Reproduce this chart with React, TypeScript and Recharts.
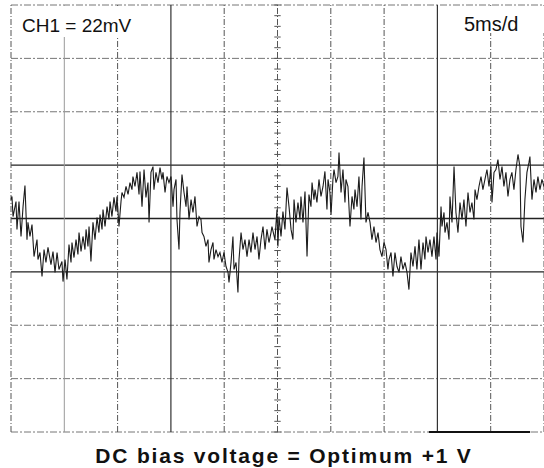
import { LineChart, Line, XAxis, YAxis, ReferenceLine } from 'recharts';

// CH1 trace: time in ms (5 ms/div), voltage in mV (22 mV/div)
const timeMs = [
  0.0, 0.09, 0.19, 0.47, 0.56, 0.75, 0.94, 1.13, 1.31, 1.5, 1.59, 1.78, 1.97, 2.16, 2.44, 2.53, 2.72, 2.91, 3.1, 3.28,
  3.47, 3.75, 3.94, 4.13, 4.32, 4.5, 4.78, 4.88, 5.07, 5.25, 5.44, 5.63, 5.72, 5.91, 6.1, 6.28, 6.38, 6.57, 6.75, 6.94,
  7.04, 7.22, 7.32, 7.5, 7.69, 7.88, 8.07, 8.25, 8.35, 8.54, 8.63, 8.82, 9.01, 9.19, 9.29, 9.47, 9.66, 9.85, 9.94, 10.13,
  10.32, 10.41, 10.6, 10.79, 10.98, 11.16, 11.35, 11.44, 11.63, 11.82, 12.01, 12.1, 12.29, 12.48, 12.66, 12.85, 12.95, 13.13, 13.32, 13.41,
  13.6, 13.79, 13.98, 14.16, 14.26, 14.45, 14.63, 14.82, 15.01, 15.2, 15.29, 15.48, 15.57, 15.76, 15.85, 16.04, 16.23, 16.42, 16.51, 16.7,
  16.89, 17.07, 17.26, 17.45, 17.64, 17.82, 17.92, 18.1, 18.29, 18.48, 18.57, 18.76, 18.95, 19.04, 19.23, 19.42, 19.6, 19.79, 19.98, 20.17,
  20.36, 20.45, 20.64, 20.82, 20.92, 21.11, 21.29, 21.39, 21.58, 21.76, 21.95, 22.14, 22.33, 22.51, 22.7, 22.89, 23.08, 23.26, 23.45, 23.64,
  23.83, 24.01, 24.2, 24.39, 24.48, 24.76, 24.95, 25.04, 25.14, 25.33, 25.51, 25.7, 25.89, 26.08, 26.27, 26.45, 26.55, 26.73, 26.92, 27.11,
  27.2, 27.39, 27.58, 27.77, 27.95, 28.14, 28.24, 28.42, 28.52, 28.7, 28.89, 29.08, 29.27, 29.45, 29.64, 29.74, 29.92, 30.02, 30.2, 30.3,
  30.49, 30.67, 30.77, 30.96, 31.14, 31.33, 31.42, 31.61, 31.8, 31.99, 32.17, 32.27, 32.46, 32.64, 32.83, 32.93, 33.11, 33.3, 33.49, 33.68,
  33.86, 34.05, 34.24, 34.43, 34.61, 34.8, 34.99, 35.18, 35.36, 35.46, 35.65, 35.83, 36.02, 36.21, 36.4, 36.58, 36.77, 36.96, 37.15, 37.33,
  37.52, 37.71, 37.9, 38.08, 38.27, 38.46, 38.65, 38.83, 38.93, 39.12, 39.3, 39.49, 39.68, 39.87, 39.96, 40.15, 40.34, 40.43, 40.62, 40.71,
  40.9, 41.09, 41.18, 41.37, 41.56, 41.74, 41.93, 42.12, 42.31, 42.49, 42.68, 42.87, 43.06, 43.24, 43.43, 43.53, 43.71, 43.9, 44.09, 44.27,
  44.46, 44.65, 44.84, 45.02, 45.12, 45.31, 45.49, 45.68, 45.87, 46.06, 46.24, 46.43, 46.62, 46.81, 46.99, 47.18, 47.37, 47.56, 47.74, 47.84,
  48.03, 48.21, 48.4, 48.59, 48.68, 48.87, 49.06, 49.25, 49.43, 49.62, 49.81, 50.0,
];

const ch1mV = [
  7.8, 9.1, 0.8, 7.0, -4.5, 7.0, -7.4, 4.9, 13.6, -8.7, -1.6, -7.4, -2.5, -15.7, -8.7, -16.9, -14.0, -23.9, -12.8, -18.1,
  -11.9, -19.0, -13.6, -22.2, -14.0, -21.0, -17.7, -26.0, -16.9, -25.1, -10.7, -18.1, -9.9, -16.1, -8.7, -14.8, -5.8, -13.6, -7.4, -12.8,
  -4.5, -11.5, -3.3, -17.7, -1.6, -8.7, 0.4, -5.8, 1.6, -4.5, 3.7, -3.3, 4.9, -0.4, 7.0, 0.8, 8.7, 2.9, 9.1, -3.3,
  7.0, 10.7, 8.7, 13.2, 9.9, 14.8, 11.9, 17.3, 13.2, 19.0, 9.9, 19.4, 4.9, 20.2, 8.7, 14.8, -1.6, 19.0, 21.4, 11.9,
  19.0, 14.8, 21.0, 16.1, 19.0, 10.7, 17.3, 14.8, 17.3, 4.9, 11.9, 16.1, -0.4, -12.8, 2.5, 18.1, 10.7, 4.9, 13.2, -0.4,
  7.8, 2.5, 9.1, -3.3, 0.8, -0.4, -5.8, -7.4, -11.5, -8.7, -18.1, -12.8, -9.9, -16.9, -12.8, -15.7, -14.0, -18.1, -14.0, -19.8,
  -22.2, -26.4, -18.1, -7.4, -21.0, -18.1, -30.5, -16.9, -5.8, -12.8, -8.7, -15.7, -8.7, -14.0, -5.8, -12.8, -7.4, -16.9, -8.7, -3.3,
  -12.8, -4.5, -9.9, -5.8, -3.3, -8.7, 3.7, -11.5, 0.8, -7.4, 2.9, -4.5, 12.8, 4.9, -4.5, -8.7, 7.8, -1.6, 6.6, -0.4,
  9.1, -1.6, 11.1, -15.7, 9.9, 4.9, 14.8, 7.8, 11.9, 6.6, 16.1, 9.1, 13.2, 19.4, 3.7, 16.1, 10.7, 1.6, 16.1, 20.2,
  14.8, 17.3, 27.2, 10.7, 20.2, 6.6, 16.1, 13.2, -3.3, 9.1, 3.7, 11.9, 4.9, 17.3, -0.4, 13.2, 25.1, -1.6, 2.5, -1.6,
  -8.7, -3.3, -9.9, -5.8, -12.8, -15.7, -9.9, -12.8, -21.0, -16.9, -14.0, -23.9, -14.0, -19.8, -22.2, -15.7, -21.0, -18.1, -22.2, -29.3,
  -14.0, -19.8, -11.5, -21.0, -8.7, -21.0, -9.9, -16.9, -7.4, -14.0, -8.7, -15.7, -7.4, -16.9, -5.8, -15.7, 4.9, -3.3, 2.5, -5.8,
  -1.6, -8.7, 9.1, -1.6, 21.4, 2.5, -5.8, 6.6, -0.4, 7.8, -3.3, 10.7, 2.5, 6.6, -0.4, 11.9, 7.8, 13.2, 17.3, 11.9,
  16.1, 20.2, 13.2, 21.4, 6.6, 19.0, 20.2, 24.3, 16.1, 21.4, 13.2, 19.0, 9.1, 16.1, 19.0, 11.9, 20.2, 26.4, 21.4, -3.3,
  -9.9, 7.8, 19.0, 23.1, 25.5, 7.8, 16.1, 10.7, 17.3, 11.9, 16.1, 13.2,
];

// graticule: 10 x 8 divisions
const xGridMs = [0, 5, 10, 15, 20, 25, 30, 35, 40, 45, 50];
const yGridMv = [-88, -66, -44, -22, 0, 22, 44, 66, 88];
const solidRows = [-22, 0, 22];
const solidCols = [15, 40];

const data = timeMs.map((t, i) => ({ t, v: ch1mV[i] }));
const minorTicks = Array.from({ length: 41 }, (_, i) => -88 + i * 4.4);

export default function App() {
  return (
    <div style={{ position: 'absolute', left: 0, top: 0, width: 544, height: 468, background: '#fff' }}>
      <LineChart width={544} height={468} data={data} margin={{ top: 5, right: 0, bottom: 36, left: 11 }}>
        <XAxis dataKey="t" type="number" domain={[0, 50]} hide />
        <YAxis type="number" domain={[-88, 88]} hide />
        {yGridMv.map((y) => (
          <ReferenceLine
            key={'h' + y}
            y={y}
            stroke={solidRows.includes(y) ? '#222' : '#666'}
            strokeWidth={solidRows.includes(y) ? 1.3 : 0.9}
            strokeDasharray={solidRows.includes(y) ? undefined : '7 2 2 2'}
          />
        ))}
        {xGridMs.map((x) => (
          <ReferenceLine
            key={'v' + x}
            x={x}
            stroke={solidCols.includes(x) ? '#333' : x === 5 ? '#999' : '#555'}
            strokeWidth={solidCols.includes(x) ? 1.2 : 1}
            strokeDasharray={solidCols.includes(x) || x === 5 ? undefined : '6 2 1 2'}
          />
        ))}
        {minorTicks.map((y) => (
          <ReferenceLine
            key={'m' + y}
            segment={[{ x: 24.7, y }, { x: 25.3, y }]}
            stroke="#555"
            strokeWidth={1}
          />
        ))}
        <ReferenceLine segment={[{ x: 39.2, y: -88 }, { x: 48.7, y: -88 }]} stroke="#111" strokeWidth={2} />
        <Line
          dataKey="v"
          type="linear"
          stroke="#1c1c1c"
          strokeWidth={1.1}
          dot={false}
          isAnimationActive={false}
        />
      </LineChart>
      <svg width={544} height={468} style={{ position: 'absolute', left: 0, top: 0, pointerEvents: 'none' }}>
        <rect x={12} y={6} width={148} height={31} fill="#fff" />
        <rect x={443} y={6} width={101} height={27} fill="#fff" />
        <text x={22} y={32} fontFamily="Liberation Sans, Arial, sans-serif" fontSize={19} fill="#111">
          CH1 = 22mV
        </text>
        <text x={464} y={31} fontFamily="Liberation Sans, Arial, sans-serif" fontSize={20} fill="#111">
          5ms/d
        </text>
        <text
          x={284}
          y={463}
          textAnchor="middle"
          fontFamily="Liberation Sans, Arial, sans-serif"
          fontSize={21}
          fontWeight="bold"
          letterSpacing={1.8}
          fill="#111"
        >
          DC bias voltage = Optimum +1 V
        </text>
      </svg>
    </div>
  );
}
